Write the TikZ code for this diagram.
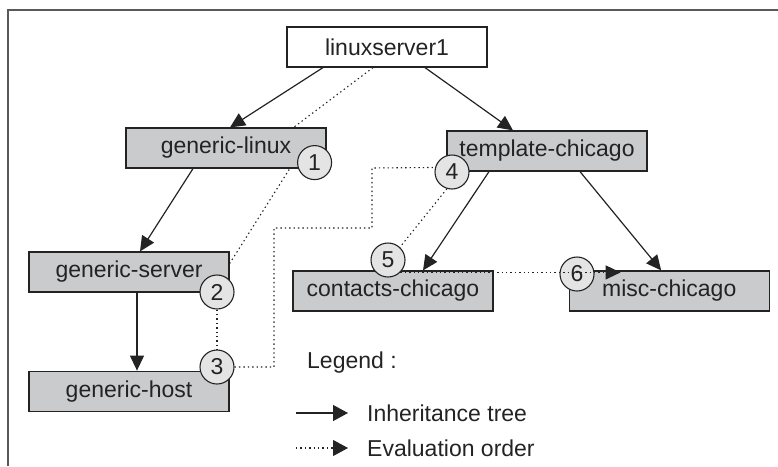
\documentclass[tikz,border=0pt]{standalone}
\usepackage{fontspec}
\setmainfont{Liberation Sans}
\usetikzlibrary{positioning, arrows.meta, calc}
\pgfdeclarelayer{background}
\pgfdeclarelayer{foreground}
\pgfsetlayers{background,main,foreground}
\definecolor{boxgray}{RGB}{202,203,205}
\definecolor{ordergray}{RGB}{228,228,228}
\definecolor{ink}{RGB}{35,35,35}
\tikzset{
    template/.style={draw=ink, line width=1.2pt, fill=boxgray, minimum width=200pt,
      minimum height=40pt, inner sep=0pt, text=ink},
    host/.style={template, fill=white},
    order/.style={circle, draw=ink, line width=1.1pt, fill=ordergray,
      minimum size=34pt, inner sep=0pt, text=ink},
    inherit/.style={draw=ink, line width=1.2pt, -{Triangle[length=15pt, width=14pt]}},
    evalorder/.style={draw=ink, line width=1.1pt, dash pattern=on 1.4pt off 3pt},
    legtext/.style={anchor=west, inner sep=0pt, text=ink},
}

\begin{document}
\begin{tikzpicture}[x=1pt, y=-1pt, font=\fontsize{23}{27}\selectfont]
    \useasboundingbox (0,0) rectangle (778,466);
    \draw[line width=1.5pt, draw=black!65] (8,466) -- (8,10) -- (778,10);

    \node[host] (ls) at (387,47) {linuxserver1};
    \node[template] (gl) at (226,148) {generic-linux};
    \node[template] (tc) at (547,151) {template-chicago};
    \node[template] (gs) at (129,272) {generic-server};
    \node[template, below=78pt of gs] (gh) {generic-host};
    \node[template] (cc) at (393,291) {contacts-chicago};
    \node[template, right=75pt of cc] (mc) {misc-chicago};

    \begin{pgfonlayer}{foreground}
      \node[order] (c1) at ([xshift=-12pt, yshift=6pt]gl.south east) {1};
      \node[order] (c2) at (217,292) {2};
      \node[order] (c3) at (217,367) {3};
      \node[order] (c4) at (452,172) {4};
      \node[order] (c5) at (388,260) {5};
      \node[order] (c6) at (577,274) {6};
    \end{pgfonlayer}

    % inheritance tree
    \draw[inherit] ([xshift=-64pt]ls.south) -- ([xshift=4pt]gl.north);
    \draw[inherit] ([xshift=38pt]ls.south) -- ([xshift=-34pt]tc.north);
    \draw[inherit] ([xshift=-33pt]gl.south) -- ([xshift=11pt]gs.north);
    \draw[inherit] ([xshift=8pt]gs.south) -- ([xshift=8pt]gh.north);
    \draw[inherit] ([xshift=-58pt]tc.south) -- ([xshift=30pt]cc.north);
    \draw[inherit] ([xshift=33pt]tc.south) -- ([xshift=-8pt]mc.north);

    % evaluation order
    \coordinate (b1) at (274,228);
    \coordinate (b2) at (372,168);
    \begin{pgfonlayer}{background}
      \draw[evalorder] ([xshift=-14pt]ls.south) -- ([xshift=-33pt]gl.north east);
      \draw[evalorder] ([xshift=-28pt, yshift=14pt]gl.south east) -- ([xshift=-10pt, yshift=-28pt]gs.north east);
      \draw[evalorder] (c2) -- (c3);
      \draw[evalorder] (c3.east) -| (b1) -| (b2) -- (c4.165);
      \draw[evalorder] (c4.253) -- (c5.47);
    \end{pgfonlayer}
    \coordinate (t6) at ([xshift=52pt, yshift=-2pt]mc.north west);
    \begin{pgfonlayer}{foreground}
      \draw[evalorder, -{Triangle[length=15pt, width=14pt]}] (c5.-45) -- (c5.-45 -| t6);
    \end{pgfonlayer}

    % legend
    \node[legtext] (leg) at (307,363) {Legend :};
    \node[legtext] (inh) at (367,413) {Inheritance tree};
    \node[legtext] (evo) at (367,448) {Evaluation order};
    \draw[inherit, -{Triangle[length=15pt, width=16pt]}] ([xshift=-71pt]inh.west) -- ([xshift=-19pt]inh.west);
    \draw[evalorder, -{Triangle[length=15pt, width=16pt]}] ([xshift=-71pt]evo.west) -- ([xshift=-19pt]evo.west);
\end{tikzpicture}
\end{document}
